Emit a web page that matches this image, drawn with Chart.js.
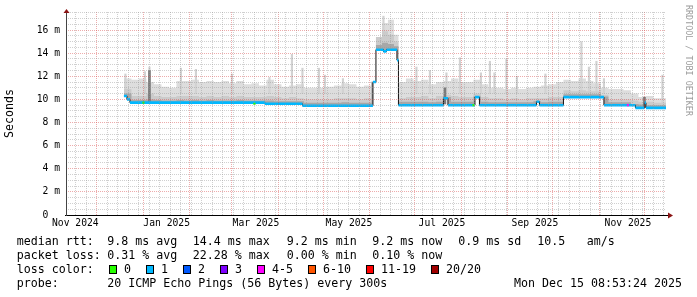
<!DOCTYPE html>
<html>
<head>
<meta charset="utf-8">
<script src="https://cdn.jsdelivr.net/npm/chart.js@4/dist/chart.umd.min.js"></script>
<style>
  html, body { margin: 0; padding: 0; background: #fff; }
  #wrap { width: 697px; height: 297px; }
</style>
</head>
<body>
<div id="wrap"><canvas id="chart" width="697" height="297"></canvas></div>
<script>
// ===== Time frame: 400 days ending at the graph stamp =====
const endTime = Date.UTC(2025, 11, 15, 8, 53, 24);
const spanDays = 400;
const startTime = endTime - spanDays * 86400000;
const day = s => (Date.parse(s.length === 10 ? s + "T00:00:00Z" : s + "Z") - startTime) / 86400000;

// ===== Median rtt (ms), level changes =====
const medianDates = ["2024-12-19", "2024-12-21", "2024-12-23", "2025-03-23", "2025-04-17",
  "2025-06-03", "2025-06-05", "2025-06-10", "2025-06-12", "2025-06-19", "2025-06-20",
  "2025-07-20", "2025-07-23", "2025-08-10", "2025-08-13", "2025-09-20", "2025-09-22",
  "2025-10-08", "2025-11-04", "2025-11-25", "2025-12-01", "2025-12-02"];
const medianValues = [10.3, 10.0, 9.72, 9.62, 9.45,
  11.5, 14.3, 14.15, 14.3, 13.4, 9.5,
  10.1, 9.5, 10.2, 9.5, 9.8, 9.5,
  10.2, 9.5, 9.27, 9.7, 9.27];

// ===== Smoke (ping spread, ms) =====
const smokeDates = ["2024-12-19", "2024-12-24", "2024-12-29", "2025-01-03", "2025-01-08",
  "2025-01-13", "2025-01-18", "2025-01-23", "2025-01-28", "2025-02-02", "2025-02-07",
  "2025-02-12", "2025-02-17", "2025-02-22", "2025-02-27", "2025-03-04", "2025-03-09",
  "2025-03-14", "2025-03-19", "2025-03-24", "2025-03-29", "2025-04-03", "2025-04-08",
  "2025-04-13", "2025-04-18", "2025-04-23", "2025-04-28", "2025-05-03", "2025-05-08",
  "2025-05-13", "2025-05-18", "2025-05-23", "2025-05-28", "2025-06-02", "2025-06-05",
  "2025-06-09", "2025-06-13", "2025-06-17", "2025-06-20", "2025-06-25", "2025-06-30",
  "2025-07-05", "2025-07-10", "2025-07-15", "2025-07-20", "2025-07-25", "2025-07-30",
  "2025-08-04", "2025-08-09", "2025-08-14", "2025-08-19", "2025-08-24", "2025-08-29",
  "2025-09-03", "2025-09-08", "2025-09-13", "2025-09-18", "2025-09-23", "2025-09-28",
  "2025-10-03", "2025-10-08", "2025-10-13", "2025-10-18", "2025-10-23", "2025-10-28",
  "2025-11-02", "2025-11-07", "2025-11-12", "2025-11-17", "2025-11-22", "2025-11-27",
  "2025-12-02", "2025-12-07", "2025-12-12"];
const smokeTop = [11.8, 11.7, 11.8, 11.5, 11.3,
  11.1, 11.0, 11.6, 11.6, 11.7, 11.5,
  11.6, 11.5, 11.6, 11.4, 11.6, 11.3,
  11.4, 11.2, 11.7, 11.3, 11.1, 11.2,
  11.3, 11.0, 11.0, 11.0, 11.1, 11.2,
  11.4, 11.3, 11.1, 11.2, 11.6, 15.2,
  16.6, 16.9, 15.6, 11.5, 11.8, 11.6,
  11.7, 11.3, 11.5, 11.6, 11.8, 11.5,
  11.5, 11.7, 11.3, 11.0, 11.0, 10.9,
  11.0, 10.9, 11.0, 11.1, 11.2, 11.3,
  11.5, 11.7, 11.6, 11.8, 11.6, 11.4,
  11.0, 10.9, 10.9, 10.8, 10.5, 10.2,
  10.3, 10.1, 10.1];
const smokeMid = [10.9, 10.3, 10.3, 10.5, 10.3,
  10.2, 10.2, 10.3, 10.3, 10.3, 10.2,
  10.3, 10.2, 10.3, 10.2, 10.3, 10.2,
  10.2, 10.2, 10.3, 10.2, 10.1, 10.2,
  10.1, 10.0, 10.0, 10.0, 10.0, 10.1,
  10.1, 10.1, 10.0, 10.1, 11.5, 15.4,
  15.9, 15.6, 15.0, 10.1, 10.2, 10.2,
  10.3, 10.1, 10.3, 10.4, 10.3, 10.2,
  10.2, 10.5, 10.2, 10.1, 10.1, 10.0,
  10.1, 10.0, 10.1, 10.1, 10.1, 10.2,
  10.2, 10.8, 10.7, 10.8, 10.7, 10.7,
  10.4, 10.0, 10.0, 10.0, 9.9, 9.8,
  9.8, 9.7, 9.7];
const smokeDark = [10.5, 9.95, 9.95, 10.0, 9.95,
  9.9, 9.9, 9.95, 9.9, 9.95, 9.9,
  9.95, 9.9, 9.9, 9.9, 9.95, 9.9,
  9.9, 9.9, 9.9, 9.85, 9.85, 9.85,
  9.85, 9.7, 9.7, 9.7, 9.7, 9.7,
  9.75, 9.7, 9.7, 9.7, 11.5, 14.7,
  14.9, 14.8, 14.6, 9.8, 9.8, 9.8,
  9.8, 9.75, 9.8, 10.2, 9.8, 9.8,
  9.8, 10.25, 9.8, 9.75, 9.75, 9.75,
  9.75, 9.75, 9.75, 9.85, 9.75, 9.8,
  9.8, 10.45, 10.45, 10.45, 10.45, 10.45,
  10.25, 9.75, 9.75, 9.75, 9.6, 9.55,
  9.5, 9.5, 9.5];

// ===== Single tall pings (ms) =====
const spikeDates = ["2024-12-20", "2025-01-02", "2025-01-05", "2025-01-26", "2025-02-05",
  "2025-03-01", "2025-03-26", "2025-04-10", "2025-04-17", "2025-04-28", "2025-05-02",
  "2025-05-14", "2025-06-10", "2025-07-02", "2025-07-11", "2025-07-22", "2025-07-31",
  "2025-08-14", "2025-08-20", "2025-08-23", "2025-08-31", "2025-09-07", "2025-09-26",
  "2025-10-20", "2025-10-25", "2025-10-30", "2025-11-04", "2025-12-13"];
const spikeTops = [12.2, 12.4, 12.8, 12.7, 12.6,
  12.2, 11.9, 13.9, 12.7, 12.7, 12.1,
  11.8, 17.2, 12.8, 12.5, 12.3, 13.6,
  12.3, 13.3, 12.3, 13.5, 12.0, 12.2,
  15.0, 12.8, 13.3, 11.8, 12.1];
const spikeLows = [10.5, 10.5, 10.5, 10.5, 10.5,
  10.5, 10.5, 10.5, 10.5, 10.5, 10.5,
  10.5, 14.5, 10.5, 10.5, 10.5, 10.5,
  10.5, 10.5, 10.5, 10.5, 10.5, 10.5,
  10.5, 10.5, 10.5, 10.5, 9.6];
const darkSpikeDates = ["2025-01-05", "2025-07-21", "2025-12-01"];
const darkSpikeTops = [12.5, 11.0, 10.2];
const darkSpikeLows = [9.8, 9.6, 9.3];

// ===== Loss colored spots on the median =====
const greenDates = ["2025-01-01", "2025-03-16", "2025-08-09"];
const greenValues = [9.72, 9.62, 9.5];
const magentaDates = ["2025-11-20"];
const magentaValues = [9.5];

// ===== Axis labels =====
const monthStarts = ["2024-12-01", "2025-01-01", "2025-02-01", "2025-03-01", "2025-04-01",
  "2025-05-01", "2025-06-01", "2025-07-01", "2025-08-01", "2025-09-01", "2025-10-01",
  "2025-11-01", "2025-12-01"];
const xLabelDates = ["2024-11-16T14:00", "2025-01-16T12:00", "2025-03-17", "2025-05-18",
  "2025-07-19", "2025-09-19", "2025-11-20"];
const xLabels = ["Nov 2024", "Jan 2025", "Mar 2025", "May 2025", "Jul 2025", "Sep 2025", "Nov 2025"];
const firstSunday = "2024-11-17";
const yMax = 17.56;

// ===== Legend =====
const lossLabels = ["0", "1", "2", "3", "4-5", "6-10", "11-19", "20/20"];
const lossColors = ["#26ff00", "#00b8ff", "#0059ff", "#7e00ff", "#ff00ff", "#ff5500", "#ff0000", "#a00000"];

const MONO = '"DejaVu Sans Mono", monospace';
const majorGrid = "rgba(215, 70, 70, 0.45)";
const minorGrid = "rgba(150, 150, 150, 0.45)";

// ===== Helpers =====
function stepPoints(dates, values) {
  const pts = dates.map((d, i) => ({ x: day(d), y: values[i] }));
  pts.push({ x: spanDays, y: values[values.length - 1] });
  return pts;
}
function flatPoints(dates, values) {
  const pts = [];
  dates.forEach((d, i) => {
    const x1 = i + 1 < dates.length ? day(dates[i + 1]) : spanDays;
    pts.push({ x: day(d), y: values[i] }, { x: x1, y: values[i] }, { x: x1, y: null });
  });
  return pts;
}
const barPoints = (dates, lows, tops) => dates.map((d, i) => ({ x: day(d), y: [lows[i], tops[i]] }));
const dotPoints = (dates, values) => dates.map((d, i) => ({ x: day(d), y: values[i] }));

const monthDays = monthStarts.map(day);
const monthSet = new Set(monthDays);
const weekDays = [];
for (let d = day(firstSunday); d < spanDays; d += 7) {
  if (!monthDays.some(m => Math.abs(m - d) < 0.01)) weekDays.push(d);
}
const xGridTicks = monthDays.concat(weekDays).sort((a, b) => a - b);
const xLabelDays = xLabelDates.map(day);
const yTicks = [];
for (let v = 0; v <= yMax; v += 0.5) yTicks.push(v);

const smokeSet = (values, color, order) => ({
  type: "line",
  data: stepPoints(smokeDates, values),
  stepped: true,
  borderWidth: 0,
  borderColor: "transparent",
  backgroundColor: color,
  fill: 4,
  pointRadius: 0,
  order
});

// ===== Decorations: axes, arrows, watermark, legend =====
const decor = {
  id: "decor",
  afterDraw(chart) {
    const { ctx, chartArea: a } = chart;
    ctx.save();
    ctx.lineWidth = 1;
    ctx.strokeStyle = "#000";
    ctx.beginPath();
    ctx.moveTo(a.left - 1, a.bottom + 0.5);
    ctx.lineTo(a.right + 2, a.bottom + 0.5);
    ctx.stroke();
    ctx.strokeStyle = "#444";
    ctx.beginPath();
    ctx.moveTo(a.left + 0.5, a.bottom + 1);
    ctx.lineTo(a.left + 0.5, a.top - 1);
    ctx.stroke();

    ctx.fillStyle = "#8b1414";
    ctx.beginPath();
    ctx.moveTo(a.left + 0.5, a.top - 3);
    ctx.lineTo(a.left - 2.5, a.top + 1);
    ctx.lineTo(a.left + 3.5, a.top + 1);
    ctx.closePath();
    ctx.fill();
    ctx.beginPath();
    ctx.moveTo(a.right + 7, a.bottom + 0.5);
    ctx.lineTo(a.right + 2, a.bottom - 2.5);
    ctx.lineTo(a.right + 2, a.bottom + 3.5);
    ctx.closePath();
    ctx.fill();

    // watermark
    ctx.save();
    ctx.translate(688, 5);
    ctx.rotate(Math.PI / 2);
    ctx.font = "8.4px " + MONO;
    ctx.fillStyle = "#9c9c9c";
    ctx.textAlign = "left";
    ctx.textBaseline = "middle";
    ctx.fillText("RRDTOOL / TOBI OETIKER", 0, 0);
    ctx.restore();

    // legend block
    ctx.font = "11.63px " + MONO;
    ctx.fillStyle = "#000";
    ctx.textAlign = "left";
    ctx.textBaseline = "alphabetic";
    const rows = [
      [245, [[16.7, "median rtt:"], [107.3, "9.8 ms avg"], [192.7, "14.4 ms max"], [286.7, "9.2 ms min"],
        [372.3, "9.2 ms now"], [458.3, "0.9 ms sd"], [537.3, "10.5"], [586.7, "am/s"]]],
      [259, [[16.7, "packet loss:"], [107.3, "0.31 % avg"], [192.7, "22.28 % max"], [286.7, "0.00 % min"],
        [372.3, "0.10 % now"]]],
      [273, [[16.7, "loss color:"]]],
      [287, [[16.7, "probe:"], [107.3, "20 ICMP Echo Pings (56 Bytes) every 300s"], [514, "Mon Dec 15 08:53:24 2025"]]]
    ];
    rows.forEach(([y, items]) => items.forEach(([x, t]) => ctx.fillText(t, x, y)));

    let bx = 109;
    lossLabels.forEach((lab, i) => {
      ctx.fillStyle = lossColors[i];
      ctx.fillRect(bx + 0.5, 265.5, 7, 8);
      ctx.strokeStyle = "#000";
      ctx.strokeRect(bx + 0.5, 265.5, 7, 8);
      ctx.fillStyle = "#000";
      ctx.fillText(lab, bx + 15, 273);
      bx = bx + 15 + ctx.measureText(lab).width + 15;
    });
    ctx.restore();
  }
};

// ===== Chart =====
const ctx = document.getElementById("chart").getContext("2d");
new Chart(ctx, {
  type: "line",
  data: {
    datasets: [
      smokeSet(smokeTop, "#dddddd", 9),
      {
        type: "bar",
        data: barPoints(spikeDates, spikeLows, spikeTops),
        backgroundColor: "#d2d2d2",
        barThickness: 1.5,
        grouped: false,
        order: 8
      },
      smokeSet(smokeMid, "#cbcbcb", 7),
      smokeSet(smokeDark, "#a8a8a8", 6),
      {
        data: stepPoints(medianDates, medianValues),
        stepped: true,
        borderColor: "#111",
        borderWidth: 1,
        pointRadius: 0,
        fill: false,
        order: 2
      },
      {
        data: flatPoints(medianDates, medianValues),
        borderColor: "#00b8ff",
        borderWidth: 2.6,
        pointRadius: 0,
        spanGaps: false,
        fill: false,
        order: 1
      },
      {
        type: "bar",
        data: barPoints(darkSpikeDates, darkSpikeLows, darkSpikeTops),
        backgroundColor: "#7a7a7a",
        barThickness: 2,
        grouped: false,
        order: 5
      },
      {
        data: dotPoints(greenDates, greenValues).concat(dotPoints(magentaDates, magentaValues)),
        showLine: false,
        pointStyle: "rect",
        pointRadius: 1.5,
        pointBorderWidth: 0,
        pointBackgroundColor: greenDates.map(() => "#26ff00").concat(magentaDates.map(() => "#ff00ff")),
        order: 0
      }
    ]
  },
  options: {
    responsive: false,
    animation: false,
    layout: { padding: { left: 0, top: 12, right: 31, bottom: 62 } },
    plugins: { legend: { display: false }, tooltip: { enabled: false } },
    scales: {
      x: {
        type: "linear",
        min: 0,
        max: spanDays,
        offset: false,
        afterBuildTicks: s => { s.ticks = xGridTicks.map(v => ({ value: v })); },
        afterFit: s => { s.height = 0; },
        ticks: { display: false },
        grid: {
          offset: false,
          z: 1,
          drawTicks: false,
          lineWidth: 1,
          color: c => monthSet.has(c.tick.value) ? majorGrid : minorGrid
        },
        border: { display: false, dash: [1, 1] }
      },
      x2: {
        type: "linear",
        position: "bottom",
        min: 0,
        max: spanDays,
        offset: false,
        afterBuildTicks: s => { s.ticks = xLabelDays.map(v => ({ value: v })); },
        afterFit: s => { s.height = 20; },
        grid: { display: false, offset: false, drawTicks: false },
        border: { display: false },
        ticks: {
          autoSkip: false,
          maxRotation: 0,
          padding: 3,
          color: "#000",
          font: { family: MONO, size: 9.7 },
          callback: v => xLabels[xLabelDays.indexOf(v)]
        }
      },
      y: {
        min: 0,
        max: yMax,
        afterBuildTicks: s => { s.ticks = yTicks.map(v => ({ value: v })); },
        afterFit: s => { s.width = 66; },
        grid: {
          z: 1,
          drawTicks: false,
          lineWidth: 1,
          color: c => c.tick.value % 2 === 0 ? majorGrid : minorGrid
        },
        border: { display: false, dash: [1, 1] },
        ticks: {
          autoSkip: false,
          padding: 6,
          color: "#000",
          font: { family: MONO, size: 9.7 },
          callback: v => v % 2 !== 0 ? "" : (v === 0 ? "0  " : v + " m")
        },
        title: {
          display: true,
          text: "Seconds",
          color: "#000",
          font: { family: MONO, size: 11.6 },
          padding: { top: 3, bottom: 0 }
        }
      }
    }
  },
  plugins: [decor]
});
</script>
</body>
</html>
